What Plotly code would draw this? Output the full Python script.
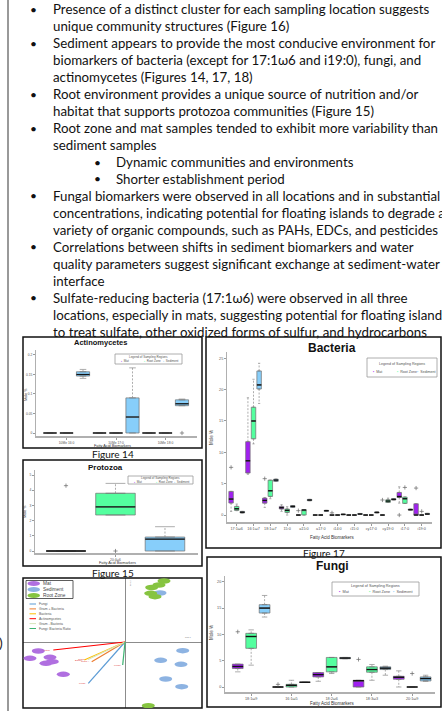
import plotly.graph_objects as go

W, H = 442, 711

# ---------------- text block ----------------
text_lines = [
    "Presence of a distinct cluster for each sampling location suggests",
    "unique community structures (Figure 16)",
    "Sediment appears to provide the most conducive environment for",
    "biomarkers of bacteria (except for 17:1ω6 and i19:0), fungi, and",
    "actinomycetes (Figures 14, 17, 18)",
    "Root environment provides a unique source of nutrition and/or",
    "habitat that supports protozoa communities (Figure 15)",
    "Root zone and mat samples tended to exhibit more variability than",
    "sediment samples",
    "Dynamic communities and environments",
    "Shorter establishment period",
    "Fungal biomarkers were observed in all locations and in substantial",
    "concentrations, indicating potential for floating islands to degrade a",
    "variety of organic compounds, such as PAHs, EDCs, and pesticides",
    "Correlations between shifts in sediment biomarkers and water",
    "quality parameters suggest significant exchange at sediment-water",
    "interface",
    "Sulfate-reducing bacteria (17:1ω6) were observed in all three",
    "locations, especially in mats, suggesting potential for floating islands",
    "to treat sulfate, other oxidized forms of sulfur, and hydrocarbons",
]
line_level = [1, 1, 1, 1, 1, 1, 1, 1, 1, 2, 2, 1, 1, 1, 1, 1, 1, 1, 1, 1]
line_bullet = [1, 0, 1, 0, 0, 1, 0, 1, 0, 1, 1, 1, 0, 0, 1, 0, 0, 1, 0, 0]

regions = ["Mat", "Root Zone", "Sediment"]

# ---------------- Figure 14: Actinomycetes  [low whisker, Q1, median, Q3, high whisker] ----------------
act_markers = ["10Me 16:0", "10Me 17:0", "10Me 18:0"]
act_mat = [[0, 0, 0, 0, 0], [0, 0, 0, 0, 0], [0, 0, 0, 0, 0]]
act_root = [[0, 0, 0, 0, 0], [0, 0, 0, 0, 0], [0, 0, 0, 0, 0]]
act_sed = [[0.140, 0.146, 0.150, 0.157, 0.163], [0, 0, 0.041, 0.090, 0.167], [0.070, 0.070, 0.075, 0.085, 0.087]]
act_out = [[[], [], []], [[], [], []], [[], [], [0.0]]]
act_yticks = [0, 0.05, 0.1, 0.15, 0.2]

# ---------------- Figure 15: Protozoa ----------------
pro_markers = ["20:4ω6"]
pro_mat = [[0, 0, 0, 0, 0]]
pro_root = [[2.37, 2.37, 2.9, 3.8, 4.45]]
pro_sed = [[0, 0, 0.78, 0.92, 1.6]]
pro_out = [[[4.3]], [[0.0]], [[]]]
pro_yticks = [0, 1, 2, 3, 4, 5]

# ---------------- Figure 17: Bacteria ----------------
bac_markers = ["17:1ω6", "16:1ω7", "18:1ω7", "15:0", "a15:0", "a17:0",
               "i14:0", "i15:0", "cy17:0", "cy19:0", "i17:0", "i19:0"]
bac_mat = [[0.58, 1.91, 2.55, 3.77, 3.77], [6.5, 6.7, 8.65, 11.7, 18.7], [1.22, 1.9, 2.33, 2.7, 2.8],
           [0.58, 0.96, 1.17, 1.38, 1.65], [0, 0, 0, 0, 0], [0, 0, 0, 0, 0],
           [0, 0, 0, 0, 0], [0, 0, 0, 0, 0], [0, 0, 0, 0, 0],
           [0, 0, 0, 0, 0], [1.9, 2.8, 2.95, 3.6, 4.5], [0, 0, 0, 1.8, 1.8]]
bac_root = [[0.69, 0.74, 1.0, 1.38, 1.75], [11.35, 12.15, 15.0, 17.2, 21.65], [2.6, 2.97, 3.87, 5.57, 5.57],
            [0, 0.42, 0.74, 0.96, 1.33], [0, 0, 0.8, 0.85, 0.85], [0, 0, 0, 0, 0],
            [0, 0, 0, 0, 0], [0, 0, 0, 0, 0], [0, 0, 0, 0, 0],
            [2.0, 2.0, 2.23, 2.44, 2.7], [1.86, 1.86, 2.6, 2.87, 2.87], [0, 0, 0, 0, 0]]
bac_sed = [[0.32, 0.32, 0.45, 0.58, 0.58], [17.8, 20.1, 20.75, 22.98, 24.2], [5.36, 5.36, 5.57, 5.73, 5.73],
           [1.22, 1.22, 1.38, 1.49, 1.49], [2.28, 2.28, 2.39, 2.5, 2.5], [0.6, 0.6, 0.69, 0.75, 0.75],
           [0.05, 0.05, 0.1, 0.15, 0.15], [0.1, 0.1, 0.16, 0.25, 0.25], [0.35, 0.35, 0.42, 0.48, 0.48],
           [2.4, 2.4, 2.5, 2.6, 2.6], [0.8, 0.8, 0.85, 0.96, 0.96], [0.1, 0.1, 0.16, 0.27, 0.27]]
bac_out = [
    [[7.6], [], [5.8], [], [0.7], [], [0.35], [], [], [2.4], [0.0], [4.3]],
    [[], [], [], [], [], [], [], [], [], [], [4.4], [0.58]],
    [[], [], [], [], [], [], [], [], [], [], [], []],
]
bac_yticks = [0, 5, 10, 15, 20, 25]

# ---------------- Figure 18: Fungi ----------------
fun_markers = ["18:1ω9", "16:1ω5", "18:2ω6", "18:3ω3", "20:1ω9"]
fun_mat = [[2.88, 3.51, 3.9, 4.35, 4.35], [0, 0, 0, 0, 0], [1.09, 1.92, 2.36, 2.75, 2.75],
           [0, 0, 1.2, 1.28, 1.28], [0, 1.47, 1.85, 2.04, 3.07]]
fun_root = [[4.15, 7.35, 9.6, 10.2, 10.86], [0, 0, 0.32, 0.5, 1.28], [2.56, 2.88, 3.83, 5.62, 5.62],
            [1.28, 2.81, 3.32, 3.83, 4.28], [0, 0, 0, 0, 0]]
fun_sed = [[13.3, 14.06, 15.0, 15.65, 17.4], [0.9, 0.9, 0.9, 0.9, 0.9], [5.37, 5.37, 5.5, 5.62, 5.62],
           [2.24, 3.32, 3.58, 3.83, 3.96], [1.09, 1.15, 1.6, 1.92, 2.24]]
fun_out = [[[10.5], [0.5], [], [5.24], []], [[], [], [], [], [2.56]], [[], [], [], [], []]]
fun_yticks = [0, 5, 10, 15, 20]

# ---------------- Figure 16: ordination (PCA) ----------------
pca_mat_x = [-8.67, -9.5, -7.5, -7.27, -7.9, -6.17]
pca_mat_y = [-0.9, -1.63, -1.53, -1.97, -2.13, -3.23]
pca_sed_x = [3.5, 5.77, 3.57, 5.6, 4.07, 5.67]
pca_sed_y = [4.9, -0.87, -1.83, -2.23, -3.7, -4.47]
pca_root_x = [3.9, 3.4, 2.67, 2.57, 3.0, 2.33]
pca_root_y = [6.1, 5.7, 5.45, 4.87, 4.53, -6.37]
vec_names = ["Fungi", "Gram + Bacteria", "Bacteria", "Actinomycetes", "Gram - Bacteria", "Fungi: Bacteria Ratio"]
vec_x = [-3.67, -3.33, -4.07, -7.17, -3.7, -0.23]
vec_y = [-4.13, -1.97, -1.8, -0.8, -1.75, -2.3]

# ---------------- styling ----------------
REG_COL = {"Mat": "#a020f0", "Root Zone": "#54ff9f", "Sediment": "#87cefa"}
PCA_COL = {"Mat": "#b06fe0", "Sediment": "#8db3e2", "Root Zone": "#86c440"}
VEC_COL = ["#5b9bd5", "#ed7d31", "#ffc000", "#ff0000", "#d8e4bc", "#3cb371"]
TXT_FONT = "Lato, sans-serif"
PLOT_FONT = "Liberation Sans, Arial, sans-serif"


def X(p):
    return p / W


def Y(p):
    return 1 - p / H


fig = go.Figure()
shapes = []
annos = []

# left border line
shapes.append(dict(type="line", xref="paper", yref="paper", x0=X(8), x1=X(8), y0=Y(0), y1=Y(711),
                   line=dict(color="#555", width=1.2)))
annos.append(dict(x=X(1), y=Y(642), xref="paper", yref="paper", text=")", showarrow=False,
                  xanchor="center", yanchor="middle", font=dict(family=TXT_FONT, size=14, color="#222")))

# bullet text
for i, (t, lv, b) in enumerate(zip(text_lines, line_level, line_bullet)):
    yy = 9.5 + 16.95 * i
    tx = 51 if lv == 1 else 114
    bx = 33 if lv == 1 else 97
    annos.append(dict(x=X(tx), y=Y(yy), xref="paper", yref="paper", text=t, showarrow=False,
                      xanchor="left", yanchor="middle",
                      font=dict(family=TXT_FONT, size=13.3, color="#111")))
    if b:
        annos.append(dict(x=X(bx), y=Y(yy), xref="paper", yref="paper", text="•", showarrow=False,
                          xanchor="center", yanchor="middle",
                          font=dict(family=TXT_FONT, size=12, color="#111")))

# frames
for (x0, y0, x1, y1) in [(23, 337, 202, 448), (23, 460, 202, 566), (23, 578, 202, 708),
                         (206, 337, 441, 548), (207, 557, 441, 707)]:
    shapes.append(dict(type="rect", xref="paper", yref="paper", x0=X(x0), x1=X(x1), y0=Y(y1), y1=Y(y0),
                       line=dict(color="#111", width=1.5), fillcolor="rgba(0,0,0,0)"))

# captions
for txt, cx, cy in [("Figure 14", 113, 453.5), ("Figure 15", 113, 572.5), ("Figure 17", 324, 552.5)]:
    annos.append(dict(x=X(cx), y=Y(cy), xref="paper", yref="paper", text=txt, showarrow=False,
                      xanchor="center", yanchor="middle", font=dict(family=TXT_FONT, size=10, color="#111")))


def axis_pair(n, xdom, ydom, xr, yr, tickvals, ticktext, yticks, fs):
    sx = "" if n == 1 else str(n)
    fig.update_layout(**{
        "xaxis" + sx: dict(domain=[X(xdom[0]), X(xdom[1])], range=xr, anchor="y" + sx,
                           showline=True, linecolor="#b0b0b0", linewidth=1.6, ticks="outside",
                           ticklen=2, tickcolor="#999", tickwidth=0.6, tickvals=tickvals, ticktext=ticktext,
                           tickfont=dict(family=PLOT_FONT, size=fs, color="#555"), showgrid=False,
                           zeroline=False, fixedrange=True),
        "yaxis" + sx: dict(domain=[Y(ydom[0]), Y(ydom[1])], range=yr, anchor="x" + sx,
                           showline=True, linecolor="#b0b0b0", linewidth=0.8, ticks="outside",
                           ticklen=2, tickcolor="#999", tickwidth=0.6, tickvals=yticks,
                           tickfont=dict(family=PLOT_FONT, size=fs, color="#555"), showgrid=False,
                           zeroline=False, fixedrange=True),
    })


def box_chart(n, series, outs, bw, medw):
    sx = "" if n == 1 else str(n)
    xa, ya = "x" + sx, "y" + sx
    for r, (name, stats) in enumerate(zip(regions, series)):
        pos = [g * 3 + r + 1 for g in range(len(stats))]
        col = REG_COL[name]
        fig.add_trace(go.Box(x=pos, q1=[s[1] for s in stats], median=[s[2] for s in stats],
                             q3=[s[3] for s in stats], lowerfence=[s[1] for s in stats],
                             upperfence=[s[3] for s in stats], width=bw, fillcolor=col,
                             line=dict(color="#707070", width=0.7), boxpoints=False,
                             xaxis=xa, yaxis=ya, showlegend=False, hoverinfo="skip"))
        wx, wy, cx, cy, mx, my, ox, oy = [], [], [], [], [], [], [], []
        for p, s, o in zip(pos, stats, outs[r]):
            if s[4] > s[3]:
                wx += [p, p, None]; wy += [s[3], s[4], None]
                cx += [p - bw / 4, p + bw / 4, None]; cy += [s[4], s[4], None]
            if s[0] < s[1]:
                wx += [p, p, None]; wy += [s[1], s[0], None]
                cx += [p - bw / 4, p + bw / 4, None]; cy += [s[0], s[0], None]
            mx += [p - bw / 2, p + bw / 2, None]; my += [s[2], s[2], None]
            for v in o:
                ox.append(p); oy.append(v)
        if wx:
            fig.add_trace(go.Scatter(x=wx, y=wy, mode="lines", line=dict(color="#8a8a8a", width=0.7, dash="2px,1.5px"),
                                     xaxis=xa, yaxis=ya, showlegend=False, hoverinfo="skip"))
            fig.add_trace(go.Scatter(x=cx, y=cy, mode="lines", line=dict(color="#8a8a8a", width=0.7),
                                     xaxis=xa, yaxis=ya, showlegend=False, hoverinfo="skip"))
        fig.add_trace(go.Scatter(x=mx, y=my, mode="lines", line=dict(color="#111", width=medw),
                                 xaxis=xa, yaxis=ya, showlegend=False, hoverinfo="skip"))
        if ox:
            fig.add_trace(go.Scatter(x=ox, y=oy, mode="markers",
                                     marker=dict(symbol="cross-thin", size=3, line=dict(color="#666", width=0.7)),
                                     xaxis=xa, yaxis=ya, showlegend=False, hoverinfo="skip"))


def legend_box(x0, y0, x1, y1, fs):
    shapes.append(dict(type="rect", xref="paper", yref="paper", x0=X(x0), x1=X(x1), y0=Y(y1), y1=Y(y0),
                       line=dict(color="#999", width=0.8), fillcolor="white"))
    w, h = x1 - x0, y1 - y0
    annos.append(dict(x=X((x0 + x1) / 2), y=Y(y0 + h * 0.3), xref="paper", yref="paper",
                      text="Legend of Sampling Regions", showarrow=False, xanchor="center", yanchor="middle",
                      font=dict(family=PLOT_FONT, size=fs, color="#555")))
    for name, fx in zip(regions, [0.06, 0.4, 0.68]):
        annos.append(dict(x=X(x0 + w * fx), y=Y(y0 + h * 0.72), xref="paper", yref="paper",
                          text="<span style='color:%s'>▪</span>  %s" % (REG_COL[name], name),
                          showarrow=False, xanchor="left", yanchor="middle",
                          font=dict(family=PLOT_FONT, size=fs, color="#555")))


def chart_titles(title, tx, ty, tfs, ylab_x, ylab_y, xlab_x, xlab_y, fs):
    annos.append(dict(x=X(tx), y=Y(ty), xref="paper", yref="paper", text="<b>%s</b>" % title, showarrow=False,
                      xanchor="center", yanchor="middle", font=dict(family="Liberation Sans, Arial", size=tfs, color="#111")))
    annos.append(dict(x=X(ylab_x), y=Y(ylab_y), xref="paper", yref="paper", text="Mole %", showarrow=False,
                      textangle=-90, xanchor="center", yanchor="middle",
                      font=dict(family=PLOT_FONT, size=fs, color="#333")))
    annos.append(dict(x=X(xlab_x), y=Y(xlab_y), xref="paper", yref="paper", text="Fatty Acid Biomarkers",
                      showarrow=False, xanchor="center", yanchor="middle",
                      font=dict(family=PLOT_FONT, size=fs, color="#333")))


# ---- Actinomycetes ----
axis_pair(1, (36, 197), (436, 350), [0.15, 9.91], [-0.0077, 0.2128],
          [2 + 3 * g for g in range(len(act_markers))], act_markers, act_yticks, 3.3)
box_chart(1, [act_mat, act_root, act_sed], act_out, 0.8, 1.2)
chart_titles("Actinomycetes", 100, 342, 7.5, 26, 395, 112, 445.5, 3.8)
legend_box(115, 354, 182, 364, 3)

# ---- Protozoa ----
axis_pair(2, (35, 198), (553, 470), [0.374, 3.667], [-0.13, 5.33],
          [2], pro_markers, pro_yticks, 3.3)
box_chart(2, [pro_mat, pro_root, pro_sed], pro_out, 0.8, 1.3)
chart_titles("Protozoa", 105, 467, 8, 25, 512, 117, 562.5, 3.8)
legend_box(128, 476, 193, 484, 3)

# ---- Bacteria ----
axis_pair(4, (227, 432), (522, 352), [0.27, 36.84], [-1.11, 26.0],
          [2 + 3 * g for g in range(len(bac_markers))], bac_markers, bac_yticks, 3.8)
box_chart(4, [bac_mat, bac_root, bac_sed], bac_out, 0.8, 1.4)
chart_titles("Bacteria", 332, 348, 12, 211, 438, 332, 537, 4.5)
legend_box(367, 358, 437, 377, 3.6)

# ---- Fungi ----
axis_pair(5, (225, 435), (692, 576), [0.05, 15.7], [-0.95, 21.1],
          [2 + 3 * g for g in range(len(fun_markers))], fun_markers, fun_yticks, 3.8)
box_chart(5, [fun_mat, fun_root, fun_sed], fun_out, 0.8, 1.4)
chart_titles("Fungi", 332, 566, 12, 211, 633, 332, 703, 4.5)
legend_box(332, 582, 419, 596, 3.8)

# ---- PCA ----
fig.update_layout(
    xaxis3=dict(domain=[X(23), X(202)], range=[-10.2, 7.7], anchor="y3", showline=False, showticklabels=False,
                ticks="", showgrid=False, zeroline=True, zerolinecolor="#8c8c8c", zerolinewidth=1, fixedrange=True),
    yaxis3=dict(domain=[Y(708), Y(578)], range=[-6.6, 6.4], anchor="x3", showline=False, showticklabels=False,
                ticks="", showgrid=False, zeroline=True, zerolinecolor="#8c8c8c", zerolinewidth=1, fixedrange=True),
)
for vx, vy, col, nm in zip(vec_x, vec_y, VEC_COL, vec_names):
    fig.add_trace(go.Scatter(x=[0, vx], y=[0, vy], mode="lines", line=dict(color=col, width=1.2),
                             xaxis="x3", yaxis="y3", showlegend=False, hoverinfo="skip"))
    annos.append(dict(x=vx, y=vy, xref="x3", yref="y3", text=nm[:6], showarrow=False, xanchor="right",
                      yanchor="middle", font=dict(family=PLOT_FONT, size=2.5, color="#e04040")))
for name, xs, ys in [("Mat", pca_mat_x, pca_mat_y), ("Sediment", pca_sed_x, pca_sed_y),
                     ("Root Zone", pca_root_x, pca_root_y)]:
    for xv, yv in zip(xs, ys):
        shapes.append(dict(type="circle", xref="x3", yref="y3", x0=xv - 0.65, x1=xv + 0.65,
                           y0=yv - 0.27, y1=yv + 0.27, fillcolor=PCA_COL[name], line=dict(width=0)))
# PCA legend
shapes.append(dict(type="rect", xref="paper", yref="paper", x0=X(26), x1=X(73), y0=Y(598.5), y1=Y(580.5),
                   line=dict(color="#333", width=0.8), fillcolor="rgba(0,0,0,0)"))
for k, name in enumerate(["Mat", "Sediment", "Root Zone"]):
    yy = 583.5 + 6 * k
    shapes.append(dict(type="circle", xref="paper", yref="paper", x0=X(27.5), x1=X(40), y0=Y(yy + 2.6),
                       y1=Y(yy - 2.6), fillcolor=PCA_COL[name], line=dict(width=0)))
    annos.append(dict(x=X(41), y=Y(yy), xref="paper", yref="paper", text=name, showarrow=False,
                      xanchor="left", yanchor="middle", font=dict(family=PLOT_FONT, size=4.8, color="#444")))
for k, (nm, col) in enumerate(zip(vec_names, VEC_COL)):
    yy = 604 + 4.9 * k
    shapes.append(dict(type="line", xref="paper", yref="paper", x0=X(29.5), x1=X(36), y0=Y(yy), y1=Y(yy),
                       line=dict(color=col, width=1)))
    annos.append(dict(x=X(36.8), y=Y(yy), xref="paper", yref="paper", text=nm, showarrow=False,
                      xanchor="left", yanchor="middle", font=dict(family=PLOT_FONT, size=3.4, color="#555")))
annos.append(dict(x=X(127), y=Y(583), xref="paper", yref="paper", text="axis 2", showarrow=False, textangle=-90,
                  xanchor="left", yanchor="middle", font=dict(family=PLOT_FONT, size=2.2, color="#777")))
annos.append(dict(x=X(188), y=Y(640), xref="paper", yref="paper", text="axis 1", showarrow=False,
                  xanchor="center", yanchor="bottom", font=dict(family=PLOT_FONT, size=2.2, color="#777")))

fig.update_layout(width=W, height=H, margin=dict(l=0, r=0, t=0, b=0), paper_bgcolor="white",
                  plot_bgcolor="rgba(0,0,0,0)", showlegend=False, boxmode="overlay",
                  shapes=shapes, annotations=annos)
fig.write_html("out.html", config={"displayModeBar": False},
               post_script="document.body.style.margin='0px';document.body.style.overflow='hidden';")
